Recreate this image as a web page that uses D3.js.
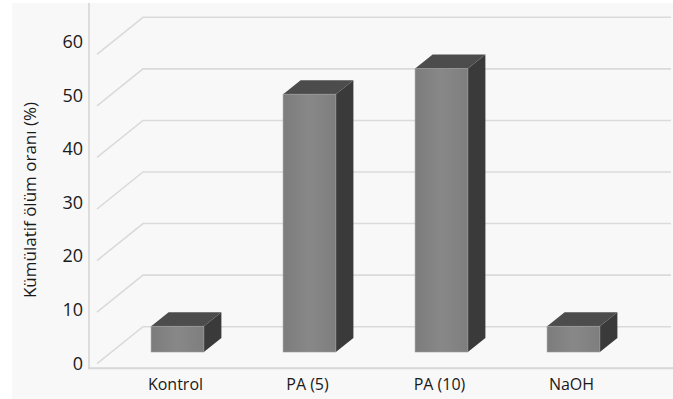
<!DOCTYPE html>
<html>
<head>
<meta charset="utf-8">
<script src="https://cdn.jsdelivr.net/npm/d3@7"></script>
<style>
  body { margin: 0; background: #fff; }
  svg { display: block; font-family: "Open Sans", sans-serif; }
</style>
</head>
<body>
<svg id="chart" width="673" height="399"></svg>
<script>
var categories = ["Kontrol", "PA (5)", "PA (10)", "NaOH"];
var values = [5, 50, 55, 5];
var yTicks = [0, 10, 20, 30, 40, 50, 60];
var yTitle = "Kümülatif ölüm oranı (%)";

// oblique 3d offsets (back wall -> front edge)
const depth = { dx: -46, dy: 37 };
const barFront = { dx: -31.5, dy: 25.3 }; // bar front face, from back wall
const barBack = { dx: -14, dy: 11.3 };    // bar back face, from back wall

var svg = d3.select("#chart");

// background
svg.append("rect")
  .attr("x", 12).attr("y", 3)
  .attr("width", 661).attr("height", 396)
  .attr("fill", "#f8f8f8");

// scales on the back wall
var yScale = d3.scaleLinear().domain([0, 60]).range([326.7, 17.3]);
var xScale = d3.scaleBand().domain(categories).range([143, 671])
  .paddingInner(0.6).paddingOuter(0.3);
// tick labels sit on their own spacing
var labelScale = d3.scaleLinear().domain([0, 60]).range([363.3, 41.7]);

// gridlines: diagonal on the side wall + straight on the back wall
var grid = svg.append("g").attr("fill", "none")
  .attr("stroke", "#dadada").attr("stroke-width", 1.6);
grid.selectAll("path")
  .data(yTicks)
  .enter()
  .append("path")
  .attr("d", function(d) {
    var y = yScale(d);
    return "M" + (143 + depth.dx) + "," + (y + depth.dy) + "L143," + y + "L671," + y;
  });

// axis frame lines
svg.append("line")
  .attr("x1", 89).attr("x2", 89).attr("y1", 3).attr("y2", 368)
  .attr("stroke", "#d6d6d6").attr("stroke-width", 1.6);
svg.append("line")
  .attr("x1", 88).attr("x2", 673).attr("y1", 368.3).attr("y2", 368.3)
  .attr("stroke", "#d6d6d6").attr("stroke-width", 2);

// y tick labels
svg.append("g")
  .selectAll("text")
  .data(yTicks)
  .enter()
  .append("text")
  .attr("x", 83)
  .attr("y", function(d) { return labelScale(d); })
  .attr("dy", "0.35em")
  .attr("text-anchor", "end")
  .attr("font-size", 18)
  .attr("fill", "#1a1a1a")
  .text(function(d) { return d; });

// y title
svg.append("text")
  .attr("transform", "translate(36,200) rotate(-90)")
  .attr("text-anchor", "middle")
  .attr("font-size", 17)
  .attr("fill", "#1a1a1a")
  .text(yTitle);

// x labels
svg.append("g")
  .selectAll("text")
  .data(categories)
  .enter()
  .append("text")
  .attr("x", function(d) { return xScale(d) + xScale.bandwidth() / 2 + barFront.dx - 2; })
  .attr("y", 390)
  .attr("text-anchor", "middle")
  .attr("font-size", 16)
  .attr("fill", "#1a1a1a")
  .text(function(d) { return d; });

// gradient for front faces
var defs = svg.append("defs");
var grad = defs.append("linearGradient").attr("id", "front")
  .attr("x1", "0").attr("x2", "1").attr("y1", "0").attr("y2", "0");
grad.append("stop").attr("offset", "0").attr("stop-color", "#7c7c7c");
grad.append("stop").attr("offset", "0.5").attr("stop-color", "#888888");
grad.append("stop").attr("offset", "1").attr("stop-color", "#7e7e7e");

// bars
var bars = svg.append("g")
  .selectAll("g")
  .data(categories.map(function(c, i) { return { cat: c, value: values[i] }; }))
  .enter()
  .append("g");

function pt(x, y) { return x + "," + y; }

bars.each(function(d) {
  var g = d3.select(this);
  var x0 = xScale(d.cat), x1 = x0 + xScale.bandwidth();
  var yb = yScale(0), yt = yScale(d.value);
  // front face corners
  var fx0 = x0 + barFront.dx, fx1 = x1 + barFront.dx;
  var fyb = yb + barFront.dy, fyt = yt + barFront.dy;
  // back face corners
  var bx0 = x0 + barBack.dx, bx1 = x1 + barBack.dx;
  var byb = yb + barBack.dy, byt = yt + barBack.dy;

  // side face
  g.append("polygon")
    .attr("points", [pt(fx1, fyt), pt(bx1, byt), pt(bx1, byb), pt(fx1, fyb)].join(" "))
    .attr("fill", "#3a3a3a");
  // top face
  g.append("polygon")
    .attr("points", [pt(fx0, fyt), pt(bx0, byt), pt(bx1, byt), pt(fx1, fyt)].join(" "))
    .attr("fill", "#4c4c4c");
  // front face
  g.append("rect")
    .attr("x", fx0).attr("y", fyt)
    .attr("width", fx1 - fx0).attr("height", fyb - fyt)
    .attr("fill", "url(#front)")
    .attr("stroke", "#9a9a9a").attr("stroke-width", 0.6);
});
</script>
</body>
</html>
